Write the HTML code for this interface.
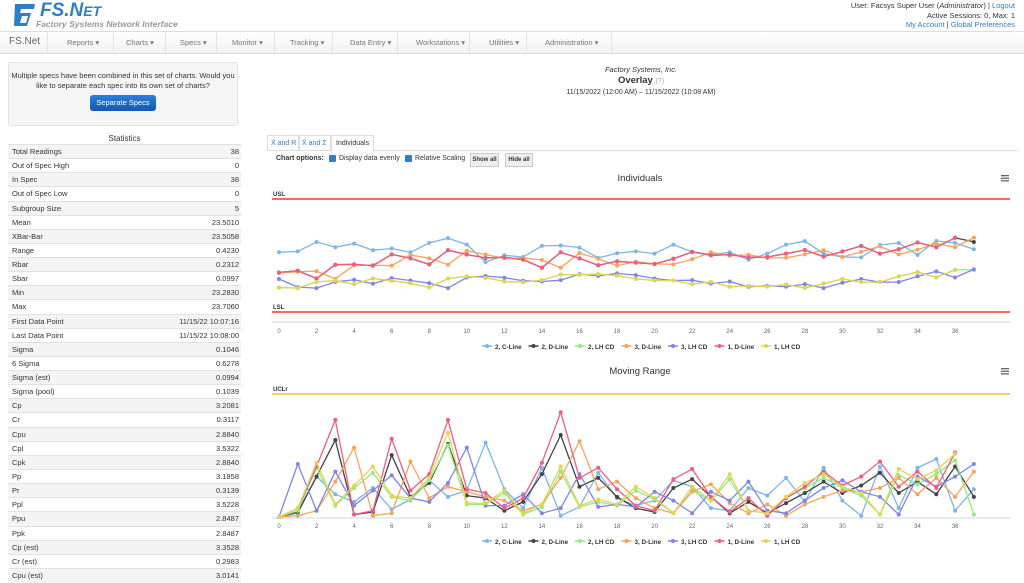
<!DOCTYPE html>
<html><head><meta charset="utf-8">
<style>
body{margin:0;width:1024px;height:580px;overflow:hidden;background:#fff;font-family:"Liberation Sans",sans-serif;position:relative;color:#333}
.abs{position:absolute}
.nav{position:absolute;left:0;top:31px;width:1024px;height:21px;background:linear-gradient(#fff,#f0f0f0);border-top:1px solid #ddd;border-bottom:1px solid #ddd}
.nav span{position:absolute;top:6px;font-size:7.5px;color:#777}
.nav i{position:absolute;top:0;width:1px;height:21px;background:#e4e4e4}
.row{position:absolute;left:8px;width:233px;height:14px;border-top:1px solid #e2e2e2;font-size:7.5px;line-height:14px}
.row .l{position:absolute;left:4px}
.row .v{position:absolute;right:2px}
.row.s{background:#f4f4f4}
</style></head><body>
<div class="abs" style="left:12px;top:2px;width:24px;height:24px;">
<svg width="26" height="26"><path d="M3 2h20l-1 5H9l-1 4h11l-4 13H2z" fill="#2f7fc7"/><path d="M10 14h6l-2 7H8z" fill="#fff"/></svg></div>
<div class="abs" style="left:40px;top:0px;font-size:19px;font-weight:bold;font-style:italic;color:#2f7fc7">FS.N<span style="font-size:14px">ET</span></div>
<div class="abs" style="left:36px;top:19px;font-size:8.5px;font-style:italic;font-weight:bold;color:#999">Factory Systems Network Interface</div>
<div class="abs" style="right:9px;top:1px;font-size:7.5px;text-align:right;line-height:9.5px">User: Facsys Super User (<i>Administrator</i>) | <span style="color:#2f7fc7">Logout</span><br>Active Sessions: 0, Max: 1<br><span style="color:#2f7fc7">My Account</span> | <span style="color:#2f7fc7">Global Preferences</span></div>
<div class="nav">
<span style="left:9px;top:4px;font-size:10px;color:#666">FS.Net</span>
<i style="left:47px"></i>
<span style="left:67px">Reports ▾</span><i style="left:113px"></i>
<span style="left:126px">Charts ▾</span><i style="left:165px"></i>
<span style="left:180px">Specs ▾</span><i style="left:216px"></i>
<span style="left:232px">Monitor ▾</span><i style="left:274px"></i>
<span style="left:290px">Tracking ▾</span><i style="left:332px"></i>
<span style="left:350px">Data Entry ▾</span><i style="left:397px"></i>
<span style="left:416px">Workstations ▾</span><i style="left:469px"></i>
<span style="left:489px">Utilities ▾</span><i style="left:526px"></i>
<span style="left:545px">Administration ▾</span><i style="left:611px"></i>
</div>
<div class="abs" style="left:8px;top:62px;width:228px;height:62px;background:#f5f5f5;border:1px solid #e3e3e3;border-radius:3px;font-size:7.5px;text-align:center;line-height:10px">
<div style="margin-top:8px">Multiple specs have been combined in this set of charts. Would you like to separate each spec into its own set of charts?</div>
<div style="display:inline-block;margin-top:4px;background:linear-gradient(#2b7fd8,#1058b8);color:#fff;padding:3px 6px;border-radius:3px;font-size:7.5px">Separate Specs</div>
</div>
<div class="abs" style="left:8px;top:134px;width:233px;text-align:center;font-size:8px">Statistics</div>
<div id="stats"></div>
<div class="abs" style="left:265px;top:65px;width:752px;text-align:center;font-size:7.5px;font-style:italic">Factory Systems, Inc.</div>
<div class="abs" style="left:265px;top:75px;width:752px;text-align:center;font-size:9.5px;font-weight:bold">Overlay <span style="font-weight:normal;color:#aaa;font-size:7px">(?)</span></div>
<div class="abs" style="left:265px;top:89px;width:752px;text-align:center;font-size:7px">11/15/2022 (12:00 AM) – 11/15/2022 (10:08 AM)</div>
<div class="abs" style="left:267px;top:150px;width:750px;height:1px;background:#ddd"></div>
<div class="abs" style="left:267px;top:135px;height:15px;padding:0 3px;border:1px solid #ddd;border-bottom:none;font-size:7px;line-height:15px;color:#2f7fc7">X̄ and R</div>
<div class="abs" style="left:298px;top:135px;height:15px;padding:0 3px;border:1px solid #ddd;border-bottom:none;font-size:7px;line-height:15px;color:#2f7fc7">X̄ and Σ</div>
<div class="abs" style="left:331px;top:135px;height:16px;padding:0 4px;border:1px solid #ddd;border-bottom:none;background:#fff;font-size:7px;line-height:15px">Individuals</div>
<div class="abs" style="left:276px;top:155px;font-size:7px;font-weight:bold">Chart options:</div>
<div class="abs" style="left:329px;top:155px;width:7px;height:7px;background:#2f7fc7;border-radius:1px"></div>
<div class="abs" style="left:339px;top:155px;font-size:7px">Display data evenly</div>
<div class="abs" style="left:405px;top:155px;width:7px;height:7px;background:#2f7fc7;border-radius:1px"></div>
<div class="abs" style="left:415px;top:155px;font-size:7px">Relative Scaling</div>
<div class="abs" style="left:470px;top:153px;width:27px;height:12px;background:#eee;border:1px solid #ccc;font-size:6px;line-height:12px;text-align:center;font-weight:bold">Show all</div>
<div class="abs" style="left:505px;top:153px;width:26px;height:12px;background:#eee;border:1px solid #ccc;font-size:6px;line-height:12px;text-align:center;font-weight:bold">Hide all</div>
<svg id="ch" class="abs" style="left:265px;top:0" width="759" height="580"></svg>
<script>
var statLabels=["Total Readings","Out of Spec High","In Spec","Out of Spec Low","Subgroup Size","Mean","XBar-Bar","Range","Rbar","Sbar","Min","Max","First Data Point","Last Data Point","Sigma","6 Sigma","Sigma (est)","Sigma (pool)","Cp","Cr","Cpu","Cpl","Cpk","Pp","Pr","Ppl","Ppu","Ppk","Cp (est)","Cr (est)","Cpu (est)"];
var statValues=["38","0","38","0","5","23.5010","23.5058","0.4230","0.2312","0.0997","23.2830","23.7060","11/15/22 10:07:16","11/15/22 10:08:00","0.1046","0.6278","0.0994","0.1039","3.2081","0.3117","2.8840","3.5322","2.8840","3.1858","0.3139","3.5228","2.8487","2.8487","3.3528","0.2983","3.0141"];
var st=document.getElementById('stats');
for(var i=0;i<statLabels.length;i++){
 var r=document.createElement('div');
 r.className='row'+(i%2==0?' s':'');
 r.style.top=(144+i*14.13)+'px';
 
 
 r.innerHTML='<span class="l">'+statLabels[i]+'</span><span class="v">'+statValues[i]+'</span>';
 st.appendChild(r);
}
var seriesNames=["2, C-Line","2, D-Line","2, LH CD","3, D-Line","3, LH CD","1, D-Line","1, LH CD"];
var seriesColors=["#7cb5ec","#434348","#90ed7d","#f7a35c","#8085e9","#f15c80","#e4d354"];
var indC=[23.517,23.522,23.572,23.544,23.563,23.528,23.537,23.517,23.567,23.592,23.558,23.465,23.501,23.492,23.551,23.553,23.542,23.487,23.512,23.522,23.510,23.558,23.519,23.505,23.517,23.478,23.510,23.558,23.576,23.510,23.492,23.490,23.556,23.567,23.503,23.577,23.567,23.533];
var indRed=[23.410,23.419,23.378,23.451,23.453,23.446,23.506,23.485,23.453,23.528,23.505,23.487,23.490,23.478,23.435,23.517,23.485,23.448,23.469,23.462,23.455,23.483,23.519,23.501,23.505,23.490,23.492,23.510,23.529,23.494,23.521,23.551,23.510,23.533,23.569,23.544,23.594];
var indBlack=[23.410,23.419,23.378,23.451,23.453,23.446,23.506,23.485,23.453,23.528,23.505,23.487,23.490,23.478,23.435,23.517,23.485,23.448,23.469,23.462,23.455,23.483,23.519,23.501,23.505,23.490,23.492,23.510,23.529,23.494,23.521,23.551,23.510,23.533,23.569,23.544,23.594,23.572];
var indOrange=[23.407,23.414,23.417,23.376,23.448,23.449,23.446,23.503,23.485,23.451,23.526,23.505,23.485,23.487,23.476,23.435,23.513,23.483,23.446,23.467,23.456,23.453,23.480,23.517,23.499,23.503,23.487,23.488,23.506,23.528,23.492,23.519,23.549,23.506,23.531,23.563,23.544,23.595];
var indPurple=[23.375,23.332,23.327,23.360,23.371,23.350,23.380,23.367,23.353,23.327,23.383,23.391,23.382,23.366,23.362,23.369,23.401,23.392,23.405,23.396,23.378,23.367,23.369,23.351,23.362,23.334,23.339,23.335,23.348,23.327,23.355,23.375,23.359,23.359,23.389,23.416,23.383,23.426];
var indYellow=[23.330,23.327,23.360,23.366,23.348,23.378,23.366,23.353,23.330,23.378,23.389,23.382,23.362,23.359,23.369,23.399,23.398,23.401,23.394,23.376,23.367,23.367,23.348,23.360,23.334,23.339,23.335,23.346,23.328,23.351,23.375,23.359,23.359,23.389,23.412,23.383,23.424];
var indGreen=[23.330,23.327,23.360,23.366,23.348,23.378,23.366,23.353,23.330,23.378,23.389,23.382,23.362,23.359,23.369,23.399,23.398,23.401,23.394,23.376,23.367,23.367,23.348,23.360,23.334,23.339,23.335,23.346,23.328,23.351,23.375,23.359,23.359,23.389,23.412,23.383,23.424,23.424];
var mrC=[0,.003,.032,.018,.012,.023,.006,.014,.029,.016,.021,.059,.022,.007,.039,.001,.008,.035,.015,.009,.013,.029,.024,.007,.005,.023,.017,.031,.012,.039,.013,.001,.040,.007,.039,.046,.005,.022];
var mrBlack=[0,.004,.032,.061,.002,.004,.049,.016,.027,.058,.017,.015,.005,.012,.034,.065,.024,.031,.016,.007,.004,.023,.030,.016,.003,.012,.003,.011,.019,.028,.019,.025,.035,.019,.028,.018,.040,.016];
var mrGreen=[0,.005,.039,.009,.023,.035,.016,.013,.029,.057,.010,.010,.019,.002,.008,.036,.008,.012,.009,.021,.014,.003,.021,.013,.030,.005,.003,.015,.023,.031,.023,.017,.002,.033,.026,.034,.045,.002];
var mrOrange=[0,.001,.005,.028,.055,.001,.003,.044,.015,.024,.020,.016,.013,.005,.010,.031,.060,.022,.028,.015,.007,.003,.020,.026,.011,.003,.010,.001,.010,.016,.021,.020,.023,.031,.018,.031,.016,.036];
var mrPurple=[0,.042,.005,.036,.009,.021,.033,.015,.012,.027,.055,.009,.009,.018,.003,.007,.034,.008,.010,.008,.020,.013,.003,.020,.013,.028,.005,.003,.013,.023,.029,.020,.016,.002,.032,.024,.032,.042];
var mrRed=[0,.007,.040,.077,.002,.005,.062,.021,.034,.077,.022,.019,.007,.015,.043,.083,.031,.039,.022,.009,.005,.030,.038,.016,.004,.015,.001,.015,.024,.036,.025,.032,.044,.024,.036,.023,.051];
var mrYellow=[0,.007,.043,.010,.025,.040,.017,.015,.031,.067,.011,.011,.021,.003,.010,.040,.009,.014,.010,.024,.015,.003,.024,.013,.034,.005,.003,.016,.027,.034,.024,.019,.002,.038,.030,.037,.050];
var xTicks=[0,2,4,6,8,10,12,14,16,18,20,22,24,26,28,30,32,34,36];
var USL=23.80, LSL=23.20, UCLr=0.0975;
var indSeries=[indC,indBlack,indGreen,indOrange,indPurple,indRed,indYellow];
var mrSeries=[mrC,mrBlack,mrGreen,mrOrange,mrPurple,mrRed,mrYellow];

var svg=document.getElementById('ch'),NS='http://www.w3.org/2000/svg';
function el(t,a,p){var e=document.createElementNS(NS,t);for(var k in a)e.setAttribute(k,a[k]);(p||svg).appendChild(e);return e;}
function xS(i){return 14+i*18.78;}
function yI(v){return 199+(USL-v)/(USL-LSL)*113;}
function yM(v){return 517-v/UCLr*123;}
function chart(title,ty,series,yF,axisY,labelY,legY,limits){
 var t=el('text',{x:375,y:ty,'text-anchor':'middle','font-size':9.5,fill:'#333'});t.textContent=title;
 
 
 var m=el('g',{});
 
 
 for(var k=0;k<3;k++)el('rect',{x:736,y:ty-6+k*2.6,width:8,height:1.3,fill:'#666'},m);
 limits.forEach(function(L){
  var ln=el('line',{x1:7,x2:745,y1:L.y,y2:L.y,stroke:L.c,'stroke-width':1.5});
  
  
  var lt=el('text',{x:8,y:L.y-3,'font-size':6,'font-weight':'bold',fill:'#333'});lt.textContent=L.t;
  
  
 });
 el('line',{x1:7,x2:745,y1:axisY,y2:axisY,stroke:'#ccd6eb','stroke-width':1});
 xTicks.forEach(function(v){var tx=el('text',{x:xS(v),y:labelY,'text-anchor':'middle','font-size':6,fill:'#666'});tx.textContent=v;
  
  });
 series.forEach(function(s,si){
  var g=el('g',{});
  
  
  var d=s.map(function(v,i){return (i?'L':'M')+xS(i).toFixed(1)+' '+yF(v).toFixed(1);}).join('');
  el('path',{d:d,fill:'none',stroke:seriesColors[si],'stroke-width':1.3},g);
  s.forEach(function(v,i){var c=el('circle',{cx:xS(i),cy:yF(v),r:2,fill:seriesColors[si]},g);
   
   });
 });
 seriesNames.forEach(function(n,k){
  var lx=222+k*46.5;
  var g=el('g',{});
  
  
  el('line',{x1:lx-5,x2:lx+5,y1:legY-2,y2:legY-2,stroke:seriesColors[k],'stroke-width':1.5},g);
  el('circle',{cx:lx,cy:legY-2,r:2,fill:seriesColors[k]},g);
  var tt=el('text',{x:lx+8,y:legY+1,'font-size':6.3,'font-weight':'bold',fill:'#333'},g);tt.textContent=n;
 });
}
chart('Individuals',181,indSeries,yI,322,333,348,[{y:yI(USL),c:'#f33',t:'USL'},{y:yI(LSL),c:'#f33',t:'LSL'}]);
chart('Moving Range',374,mrSeries,yM,518,528,543,[{y:yM(UCLr),c:'#f0c040',t:'UCLr'}]);
</script>
</body></html>
